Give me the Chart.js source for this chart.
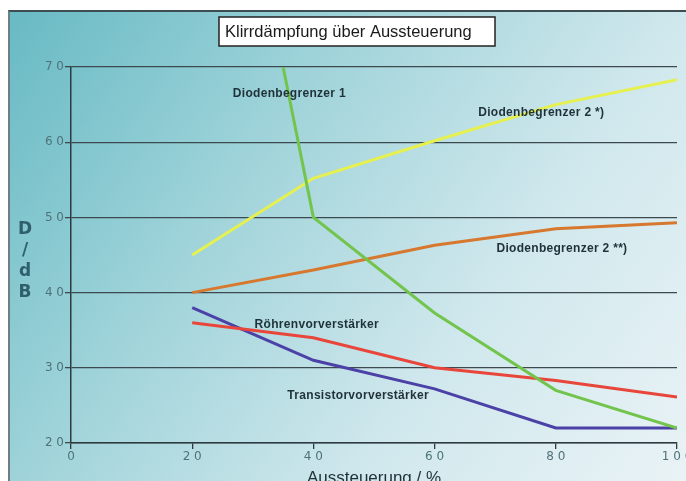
<!DOCTYPE html>
<html>
<head>
<meta charset="utf-8">
<script src="https://cdn.jsdelivr.net/npm/chart.js@4"></script>
<style>
  html, body { margin: 0; padding: 0; background: #fff; overflow: hidden; width: 686px; height: 481px; }
  #frame {
    position: absolute; left: 8px; top: 10px; width: 700px; height: 490px;
    border-left: 2px solid #6d7f84; border-top: 2px solid #3e4d52;
    background: linear-gradient(125deg, #68bac4 0%, #a3d5db 35%, #d0e8ed 65%, #edf4f7 100%);
  }
  #wrap { position: absolute; left: 0; top: 0; width: 700px; height: 489px; }
</style>
</head>
<body>
<div id="frame"></div>
<div id="wrap"><canvas id="chart"></canvas></div>
<script>
// values
const xValues = [20, 40, 60, 80, 100];
const diode1X = [35, 40, 60, 80, 100];
const diode1 = [70, 50, 37.3, 27, 22];
const diode2a = [45, 55.2, 60.2, 65, 68.3];
const diode2b = [40, 43, 46.3, 48.5, 49.3];
const roehre = [36, 34, 30, 28.3, 26.1];
const transistor = [38, 31, 27.2, 22, 22];

const xTicks = [0, 20, 40, 60, 80, 100];
const xTickLabels = ['0', '2 0', '4 0', '6 0', '8 0', '1 0 0'];
const yTicks = [20, 30, 40, 50, 60, 70];
const yTickLabels = ['2 0', '3 0', '4 0', '5 0', '6 0', '7 0'];

const lineNames = ['Diodenbegrenzer 1', 'Diodenbegrenzer 2 *)', 'Diodenbegrenzer 2 **)', 'Röhrenvorverstärker', 'Transistorvorverstärker'];
// where the names sit, in chart units (left edge, middle)
const nameAnchors = [[26.7, 66.5], [67.2, 63.9], [70.2, 45.9], [30.3, 35.7], [35.7, 26.25]];

const chartTitle = 'Klirrdämpfung über Aussteuerung';
const yTitle = ['D', '/', 'd', 'B'];
const xTitle = 'Aussteuerung / %';

function pts(xs, ys) {
    return xs.map((x, i) => ({ x: x, y: ys[i] }));
}

const decorations = {
    id: 'decorations',
    afterDraw(chart) {
        const ctx = chart.ctx;
        const xs = chart.scales.x;
        const ys = chart.scales.y;
        ctx.save();

        // title box
        ctx.fillStyle = '#fff';
        ctx.fillRect(219, 17, 276, 29);
        ctx.strokeStyle = '#222';
        ctx.lineWidth = 1.5;
        ctx.strokeRect(219, 17, 276, 29);
        ctx.fillStyle = '#1a1a1a';
        ctx.font = '16.5px "Liberation Sans"';
        ctx.textBaseline = 'middle';
        ctx.textAlign = 'left';
        ctx.fillText(chartTitle, 225, 32);

        // stacked y title
        ctx.textAlign = 'center';
        ctx.fillStyle = '#2f5f6b';
        ctx.font = 'bold 17px "DejaVu Sans"';
        yTitle.forEach((ch, i) => ctx.fillText(ch, 25, 230 + i * 21));

        // series names
        ctx.fillStyle = '#1f3139';
        ctx.font = 'bold 12px "Liberation Sans"';
        ctx.letterSpacing = '0.3px';
        ctx.textAlign = 'left';
        lineNames.forEach((name, i) => {
            const [vx, vy] = nameAnchors[i];
            ctx.fillText(name, xs.getPixelForValue(vx), ys.getPixelForValue(vy));
        });
        ctx.restore();
    }
};

const line = (label, data, color) => ({
    label: label,
    data: data,
    borderColor: color,
    borderWidth: 3,
    pointRadius: 0,
    fill: false,
    tension: 0,
});

new Chart(document.getElementById('chart'), {
    type: 'line',
    data: {
        datasets: [
            line(lineNames[0], pts(diode1X, diode1), '#72c44c'),
            line(lineNames[1], pts(xValues, diode2a), '#e6f04e'),
            line(lineNames[2], pts(xValues, diode2b), '#d7782e'),
            line(lineNames[3], pts(xValues, roehre), '#e8463a'),
            line(lineNames[4], pts(xValues, transistor), '#4b41a6'),
        ],
    },
    options: {
        responsive: true,
        maintainAspectRatio: false,
        animation: false,
        layout: { padding: { top: 67, right: 23, left: 0, bottom: 0 } },
        plugins: {
            legend: { display: false },
            tooltip: { enabled: false },
        },
        scales: {
            x: {
                type: 'linear',
                min: 0,
                max: 100,
                afterBuildTicks: (scale) => { scale.ticks = xTicks.map(v => ({ value: v })); },
                afterFit: (scale) => { scale.height = 46; },
                ticks: {
                    autoSkip: false,
                    maxRotation: 0,
                    padding: 1,
                    color: '#4f7379',
                    font: { family: 'DejaVu Sans', size: 12 },
                    callback: (v) => xTickLabels[xTicks.indexOf(v)],
                },
                grid: { drawOnChartArea: false, drawTicks: true, tickLength: 6, color: '#2d3b40', lineWidth: 1.3 },
                border: { display: true, color: '#2d3b40', width: 1.5 },
                title: {
                    display: true,
                    text: xTitle,
                    color: '#1e3038',
                    font: { family: 'Liberation Sans', size: 17 },
                    padding: 0,
                },
            },
            y: {
                type: 'linear',
                min: 20,
                max: 70,
                afterBuildTicks: (scale) => { scale.ticks = yTicks.map(v => ({ value: v })); },
                afterFit: (scale) => { scale.width = 71; },
                ticks: {
                    padding: 1,
                    color: '#4f7379',
                    font: { family: 'DejaVu Sans', size: 12 },
                    callback: (v) => yTickLabels[yTicks.indexOf(v)],
                },
                grid: { drawOnChartArea: true, drawTicks: true, tickLength: 6, color: '#3c4a4f', lineWidth: 1.3 },
                border: { display: true, color: '#2d3b40', width: 1.5 },
            },
        },
    },
    plugins: [decorations],
});
</script>
</body>
</html>
